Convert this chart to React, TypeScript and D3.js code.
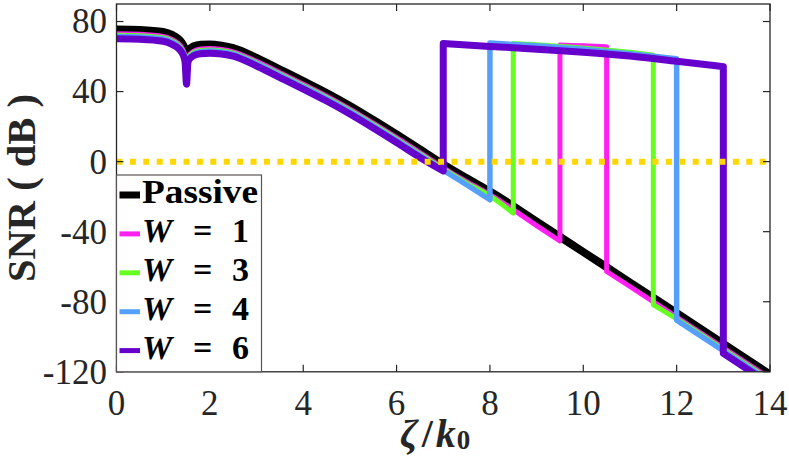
import * as d3 from "d3"

// SNR vs normalised wavenumber, passive vs active (W = 1,3,4,6)
type Pt = [number, number]

const xTicks = [0, 2, 4, 6, 8, 10, 12, 14]
const yTicks = [-120, -80, -40, 0, 40, 80]

const passive: Pt[] = [
  [0, 75.5], [0.5, 75.2], [1.0, 74], [1.2, 72.2], [1.3, 70.6], [1.4, 67.8], [1.45, 65.3],
  [1.5, 61.5], [1.55, 63.6], [1.65, 65.8], [1.8, 66.8], [2.0, 66.9], [2.25, 66.2], [2.5, 64.8],
  [3.0, 59.2], [3.5, 52.6], [4.0, 46], [4.5, 39.2], [5.0, 31.8], [5.5, 23.8], [6.0, 15.5],
  [6.5, 7], [7.0, -1.6], [7.5, -9.5], [8.0, -17], [9, -34.2], [10, -51.6], [11, -69],
  [12, -86.5], [13, -104], [14, -121.5],
]

const w1: Pt[] = [
  [0, 73], [0.5, 72.7], [1.0, 71.5], [1.2, 69.6], [1.3, 68], [1.4, 65], [1.45, 62.2],
  [1.5, 57.8], [1.55, 60.5], [1.65, 63], [1.8, 64.3], [2.0, 64.6], [2.25, 64], [2.5, 62.7],
  [3.0, 57.3], [3.5, 50.8], [4.0, 44.2], [4.5, 37.4], [5.0, 30], [5.5, 22], [6.0, 13.7],
  [6.5, 5.2], [7.0, -3.5], [7.5, -11.5], [8.0, -18.8], [9, -36.5], [9.5, -45.3], [9.5, 66.6],
  [10, 66.1], [10.5, 65.6], [10.5, -62.7], [11, -71.3], [12, -88.8], [13, -106.3], [14, -123.8],
]

const w3: Pt[] = [
  [0, 72.2], [0.5, 71.9], [1.0, 70.7], [1.2, 68.8], [1.3, 67.2], [1.4, 64.2], [1.45, 61.4],
  [1.5, 57.2], [1.55, 59.8], [1.65, 62.3], [1.8, 63.5], [2.0, 63.8], [2.25, 63.3], [2.5, 62],
  [3.0, 56.5], [3.5, 50], [4.0, 43.4], [4.5, 36.6], [5.0, 29.2], [5.5, 21.2], [6.0, 12.9],
  [6.5, 4.4], [7.0, -4.2], [7.5, -12.3], [8.0, -19.6], [8.5, -29.4], [8.5, 67.4], [9, 66.7],
  [10, 64.8], [11, 62.4], [11.5, 60.8], [11.5, -81.7], [12, -89.8], [13, -107.2], [14, -124.7],
]

const w4: Pt[] = [
  [0, 71.5], [0.5, 71.2], [1.0, 70], [1.2, 68.1], [1.3, 66.5], [1.4, 63.5], [1.45, 60.7],
  [1.5, 56.6], [1.55, 59.1], [1.65, 61.6], [1.8, 62.8], [2.0, 63.1], [2.25, 62.6], [2.5, 61.4],
  [3.0, 55.9], [3.5, 49.3], [4.0, 42.7], [4.5, 35.9], [5.0, 28.5], [5.5, 20.5], [6.0, 12.2],
  [6.5, 3.7], [7.0, -4.9], [7.5, -13.2], [8.0, -21.8], [8.0, 67.7], [9, 66.1], [10, 64.1],
  [11, 61.6], [12, 58.7], [12, -90.6], [13, -108], [14, -125.5],
]

const w6: Pt[] = [
  [0, 70.2], [0.5, 69.9], [1.0, 68.7], [1.2, 66.8], [1.3, 65.2], [1.4, 62.2], [1.45, 59.2],
  [1.47, 56.5], [1.5, 44.2], [1.53, 56.5], [1.55, 58], [1.65, 60.4], [1.8, 61.6], [2.0, 61.9],
  [2.25, 61.4], [2.5, 60.2], [3.0, 54.6], [3.5, 48], [4.0, 41.4], [4.5, 34.6], [5.0, 27.2],
  [5.5, 19.2], [6.0, 10.9], [6.5, 2.4], [7.0, -5.3], [7.0, 67.5], [8, 65.8], [9, 64.2],
  [10, 62.5], [11, 60.3], [12, 57.3], [13, 54.2], [13, -109.5], [14, -127],
]

const series = [
  { name: "Passive", data: passive, color: "#000000", width: 8 },
  { name: "1", data: w1, color: "#ff1ff0", width: 5 },
  { name: "3", data: w3, color: "#66ff22", width: 5 },
  { name: "4", data: w4, color: "#55a0ff", width: 5.5 },
  { name: "6", data: w6, color: "#6600cc", width: 7 },
]

const W = 789
const H = 458
const left = 116.5
const right = 770
const top = 4
const bottom = 371.8
const axisColor = "#262626"
const serif = "'Liberation Serif', 'Times New Roman', serif"

export default function App() {
  const x = d3.scaleLinear().domain([0, 14]).range([left, right])
  const y = d3.scaleLinear().domain([-120, 90]).range([bottom, top])
  const line = d3.line<Pt>().x(d => x(d[0])).y(d => y(d[1])).curve(d3.curveMonotoneX)

  // smooth pieces joined by straight vertical jumps
  const pathOf = (data: Pt[]) => {
    const segs: Pt[][] = []
    let cur: Pt[] = [data[0]]
    for (let i = 1; i < data.length; i++) {
      if (data[i][0] === data[i - 1][0]) {
        segs.push(cur)
        cur = [data[i]]
      } else cur.push(data[i])
    }
    segs.push(cur)
    return segs.map((s, i) => {
      const p = line(s) ?? ""
      return i === 0 ? p : "L" + p.slice(1)
    }).join("")
  }

  const legendX = left
  const legendY = 175
  const rowH = 38.9

  return (
    <svg width={W} height={H} style={{ position: "absolute", left: 0, top: 0, background: "#fff" }}
      fontFamily={serif}>
      <defs>
        <clipPath id="plot">
          <rect x={left} y={top} width={right - left} height={bottom - top} />
        </clipPath>
      </defs>

      {/* curves */}
      <g clipPath="url(#plot)" fill="none" strokeLinejoin="round">
        {series.map(s => (
          <path key={s.name} d={pathOf(s.data)} stroke={s.color} strokeWidth={s.width} />
        ))}
        <line x1={x(0)} x2={x(14)} y1={y(0)} y2={y(0)} stroke="#ffd700" strokeWidth={6}
          strokeDasharray="6 7.4" />
      </g>

      {/* axes box */}
      <rect x={left} y={top} width={right - left} height={bottom - top} fill="none"
        stroke={axisColor} strokeWidth={1.3} />
      {xTicks.map(t => (
        <g key={"x" + t}>
          <line x1={x(t)} x2={x(t)} y1={bottom} y2={bottom - 7} stroke={axisColor} strokeWidth={1.2} />
          <line x1={x(t)} x2={x(t)} y1={top} y2={top + 7} stroke={axisColor} strokeWidth={1.2} />
          <text x={x(t)} y={415} textAnchor="middle" fontSize={35} fill={axisColor}>{t}</text>
        </g>
      ))}
      {yTicks.map(t => (
        <g key={"y" + t}>
          <line x1={left} x2={left + 7} y1={y(t)} y2={y(t)} stroke={axisColor} strokeWidth={1.2} />
          <line x1={right} x2={right - 7} y1={y(t)} y2={y(t)} stroke={axisColor} strokeWidth={1.2} />
          <text x={107} y={y(t)} dy="0.34em" textAnchor="end" fontSize={35} fill={axisColor}>{t}</text>
        </g>
      ))}

      {/* axis labels */}
      <text transform="translate(35,188) rotate(-90)" textAnchor="middle" fontSize={39}
        fontWeight="bold" fill={axisColor} xmlSpace="preserve" textLength={188}
        lengthAdjust="spacingAndGlyphs">SNR ( dB )</text>
      <text x={400} y={447} fontSize={40} fontWeight="bold" fill={axisColor}>
        <tspan fontStyle="italic">ζ</tspan>
        <tspan dx={4}>/</tspan>
        <tspan fontStyle="italic" dx={3}>k</tspan>
        <tspan fontSize={27} dx={1} dy={2}>0</tspan>
      </text>

      {/* legend */}
      <rect x={legendX} y={legendY} width={145} height={bottom - legendY} fill="#fff"
        stroke="#5a5454" strokeWidth={1.2} />
      {series.map((s, i) => {
        const cy = 195 + i * rowH
        return (
          <g key={"lg" + s.name}>
            <line x1={legendX + 3} x2={legendX + 23.5} y1={cy} y2={cy} stroke={s.color}
              strokeWidth={i === 0 ? 7 : 5} />
            {i === 0 ? (
              <text x={142} y={cy + 8} fontSize={34} fontWeight="bold" textLength={116}
                lengthAdjust="spacingAndGlyphs">Passive</text>
            ) : (
              <text y={cy + 8} fontSize={34} fontWeight="bold">
                <tspan x={142} fontStyle="italic">W</tspan>
                <tspan x={193}>=</tspan>
                <tspan x={232}>{s.name}</tspan>
              </text>
            )}
          </g>
        )
      })}
    </svg>
  )
}
